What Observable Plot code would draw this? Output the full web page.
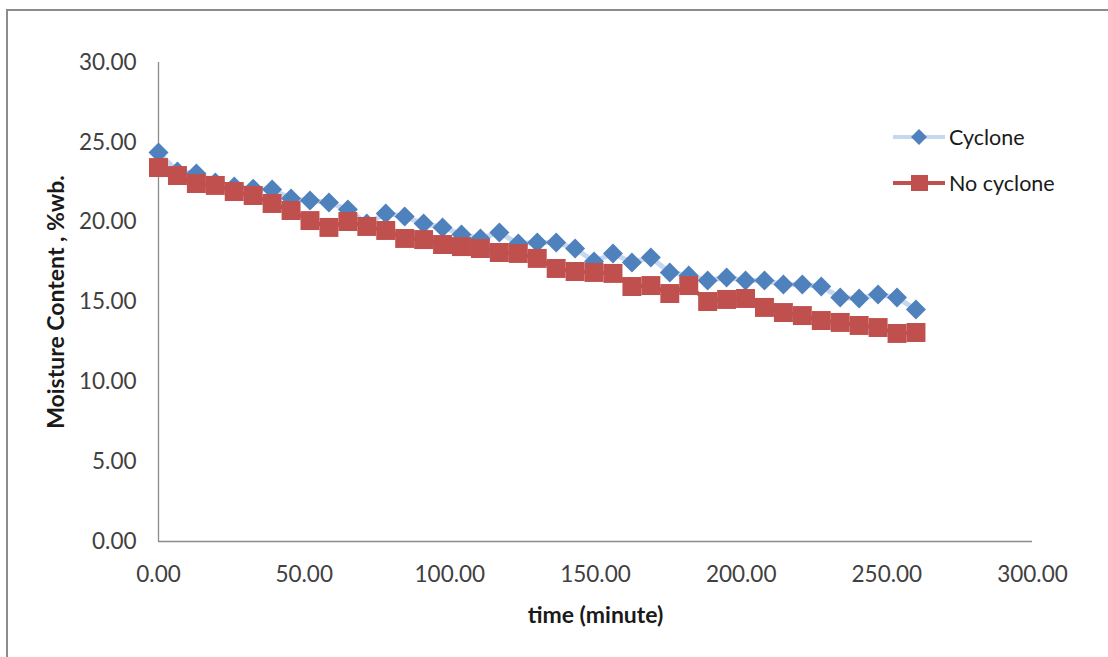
<!DOCTYPE html>
<html><head><meta charset="utf-8">
<script src="https://cdn.jsdelivr.net/npm/d3@7"></script>
<script src="https://cdn.jsdelivr.net/npm/@observablehq/plot@0.6"></script>
<style>
body{margin:0;background:#fff;}
#wrap{position:relative;width:1108px;height:657px;overflow:hidden;font-family:Lato,sans-serif;background:#fff;}
#frame{position:absolute;left:6px;top:9px;width:1300px;height:900px;border-left:2px solid #8c8c8c;border-top:2px solid #8c8c8c;}
#chart{position:absolute;left:0;top:0;}
.item{position:absolute;left:893px;display:flex;align-items:center;font-size:21.5px;color:#1a1a1a;white-space:nowrap;}
.item svg{display:block;margin-right:2px;}
g[aria-label="x-axis label"], g[aria-label="y-axis label"]{font-weight:bold;font-size:23px;fill:#1a1a1a;}
</style></head><body>
<div id="wrap"><div id="frame"></div><div id="chart"></div>
<div class="item" style="top:124px"><svg width="54" height="24"><line x1="0" y1="12" x2="52" y2="12" stroke="#c6d7ee" stroke-width="4"/><path d="M26,4L34,12L26,20L18,12Z" fill="#4f81bd"/></svg><span>Cyclone</span></div>
<div class="item" style="top:170px"><svg width="54" height="24"><line x1="0" y1="12" x2="52" y2="12" stroke="#c0504d" stroke-width="4"/><rect x="18" y="4" width="17" height="16" fill="#c0504d"/></svg><span>No cyclone</span></div>
</div>
<script>
const time = [0, 6.5, 13, 19.5, 26, 32.5, 39, 45.5, 52, 58.5, 65, 71.5, 78, 84.5, 91, 97.5, 104, 110.5, 117, 123.5, 130, 136.5, 143, 149.5, 156, 162.5, 169, 175.5, 182, 188.5, 195, 201.5, 208, 214.5, 221, 227.5, 234, 240.5, 247, 253.5, 260];
const cyclone = [24.36, 23.17, 23.05, 22.48, 22.23, 22.10, 22.05, 21.48, 21.35, 21.23, 20.79, 19.91, 20.54, 20.35, 19.91, 19.67, 19.23, 18.98, 19.35, 18.66, 18.73, 18.73, 18.35, 17.54, 18.04, 17.47, 17.79, 16.85, 16.66, 16.35, 16.53, 16.35, 16.35, 16.10, 16.10, 15.97, 15.28, 15.22, 15.47, 15.28, 14.53];
const noCyclone = [23.42, 22.92, 22.42, 22.30, 21.92, 21.67, 21.17, 20.73, 20.10, 19.67, 20.04, 19.73, 19.48, 18.98, 18.91, 18.60, 18.47, 18.35, 18.10, 18.04, 17.73, 17.10, 16.91, 16.85, 16.79, 15.97, 16.03, 15.53, 16.03, 15.03, 15.16, 15.22, 14.66, 14.34, 14.15, 13.84, 13.72, 13.53, 13.40, 13.03, 13.09];
const xTicks = [0, 50, 100, 150, 200, 250, 300];
const yTicks = [0, 5, 10, 15, 20, 25, 30];
const seriesNames = ["Cyclone", "No cyclone"];

const rowsC = time.map((t, i) => ({t, v: cyclone[i], s: seriesNames[0]}));
const rowsN = time.map((t, i) => ({t, v: noCyclone[i], s: seriesNames[1]}));
const fmt = d => d.toFixed(2);

const chart = Plot.plot({
  width: 1108, height: 657,
  marginLeft: 158, marginRight: 76, marginTop: 62, marginBottom: 116,
  style: {fontFamily: "Lato, sans-serif", fontSize: "22.5px", color: "#404040", background: "transparent"},
  x: {domain: [0, 300]},
  y: {domain: [0, 30]},
  marks: [
    Plot.ruleY([0], {stroke: "#8c8c8c", strokeWidth: 1.3}),
    Plot.ruleX([0], {stroke: "#8c8c8c", strokeWidth: 1.3}),
    Plot.axisX({ticks: xTicks, tickSize: 0, tickPadding: 25, tickFormat: fmt,
      label: "time (minute)", labelAnchor: "center", labelArrow: "none", labelOffset: 81}),
    Plot.axisY({ticks: yTicks, tickSize: 0, tickPadding: 22, tickFormat: fmt,
      label: "Moisture Content , %wb.", labelAnchor: "center", labelArrow: "none", labelOffset: 111}),
    Plot.line(rowsC, {x: "t", y: "v", stroke: "#c6d7ee", strokeWidth: 5}),
    Plot.dot(rowsC, {x: "t", y: "v", symbol: "diamond2", r: 9, fill: "#4f81bd", stroke: "none"}),
    Plot.line(rowsN, {x: "t", y: "v", stroke: "#c0504d", strokeWidth: 4}),
    Plot.dot(rowsN, {x: "t", y: "v", symbol: "square", r: 10.7, fill: "#c0504d", stroke: "none"})
  ]
});
document.getElementById("chart").appendChild(chart);
</script>
</body></html>
